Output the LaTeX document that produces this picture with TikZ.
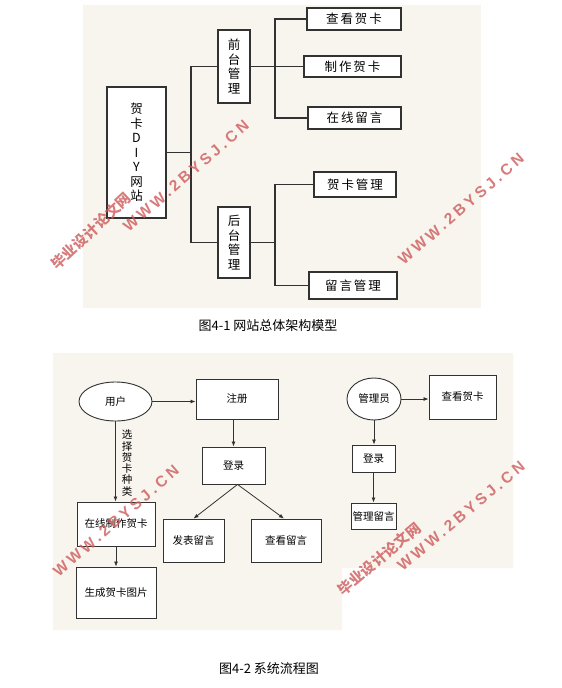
\documentclass[tikz,border=0pt]{standalone}
\usepackage{fontspec}
\setmainfont{Noto Sans CJK SC}
\newfontfamily\cjksp[LetterSpace=15]{Noto Sans CJK SC}
\newfontfamily\wmlatin[LetterSpace=22]{Liberation Sans}
\newfontfamily\wmcjk[LetterSpace=2]{Noto Sans CJK SC}
\usetikzlibrary{arrows.meta,shapes.geometric}
\definecolor{bg}{RGB}{248,245,239}
\definecolor{ln}{RGB}{50,50,50}
\definecolor{wmred}{RGB}{205,90,90}
\tikzset{
  tbox/.style={draw=ln, line width=1.1pt, fill=white, inner sep=0pt, align=center,
    font=\cjksp\fontsize{12.5}{14.5}\selectfont},
  fbox/.style={draw=ln, line width=0.9pt, fill=white, inner sep=0pt, align=center,
    font=\fontsize{10.5}{12}\selectfont},
  fell/.style={fbox, ellipse},
  tline/.style={draw=ln, line width=1.1pt},
  arr/.style={draw=ln, line width=0.8pt, -{Latex[length=5pt,width=4pt]}},
  captxt/.style={font=\fontsize{13}{15}\selectfont},
  wm/.style={text=wmred, opacity=0.8, font=\wmlatin\bfseries\fontsize{15.5}{17}\selectfont},
  wmc/.style={text=wmred, opacity=0.8, font=\wmcjk\bfseries\fontsize{14.5}{16}\selectfont}
}
\begin{document}
\begin{tikzpicture}[x=1pt,y=-1pt]
\useasboundingbox (0,0) rectangle (562,688);
\fill[white] (0,0) rectangle (562,688);
% backgrounds
\fill[bg] (83,5) rectangle (481,308);
\fill[bg] (53,353) -- (513,353) -- (513,568) -- (342,568) -- (342,630) -- (53,630) -- cycle;

% ---------- Figure 4-1 ----------
\node[tbox, minimum width=59pt, minimum height=131pt] (site) at (136.5,152.5) {贺\\卡\\D\\I\\Y\\网\\站};
\node[tbox, minimum width=32pt, minimum height=73pt] (front) at (234,66.5) {前\\台\\管\\理};
\node[tbox, minimum width=32pt, minimum height=71pt] (back) at (234,242.5) {后\\台\\管\\理};
\node[tbox, minimum width=94pt, minimum height=22pt] (c1) at (354,19) {查看贺卡};
\node[tbox, minimum width=97pt, minimum height=21pt] (c2) at (352.5,66.5) {制作贺卡};
\node[tbox, minimum width=93pt, minimum height=22pt] (c3) at (354.5,118) {在线留言};
\node[tbox, minimum width=82pt, minimum height=25pt] (c4) at (355,184.5) {贺卡管理};
\node[tbox, minimum width=88pt, minimum height=27pt] (c5) at (353,285.5) {留言管理};

\coordinate (j1) at (191,152.5);
\coordinate (j2) at (275,66.5);
\coordinate (j3) at (275,242.5);
\draw[tline] (site.east) -- (j1);
\draw[tline] (front.west) -| (j1) |- (back.west);
\draw[tline] (front.east) -- (j2);
\draw[tline] (c1.west) -| (j2) |- (c3.west);
\draw[tline] (j2) -- (c2.west);
\draw[tline] (back.east) -- (j3);
\draw[tline] (c4.west) -| (j3) |- (c5.west);

\node[captxt] (cap1) at (268,326) {图4-1 网站总体架构模型};

% ---------- Figure 4-2 ----------
\node[fell, minimum width=73pt, minimum height=39pt] (user) at (115.5,401.5) {用户};
\node[fbox, minimum width=82pt, minimum height=40pt] (reg) at (237,399) {注册};
\node[fbox, minimum width=63pt, minimum height=37pt] (login) at (233.5,465.5) {登录};
\node[fbox, minimum width=61pt, minimum height=43pt] (post) at (193.5,540.5) {发表留言};
\node[fbox, minimum width=70pt, minimum height=43pt] (view) at (286,540.5) {查看留言};
\node[fbox, minimum width=78pt, minimum height=44pt] (make) at (116,524) {在线制作贺卡};
\node[fbox, minimum width=80pt, minimum height=51pt] (gen) at (116,592.5) {生成贺卡图片};

\node[fell, minimum width=54pt, minimum height=42pt] (admin) at (374,399) {管理员};
\node[fbox, minimum width=67pt, minimum height=44pt] (aview) at (462.5,397) {查看贺卡};
\node[fbox, minimum width=43pt, minimum height=27pt] (alogin) at (373.5,458.5) {登录};
\node[fbox, minimum width=45pt, minimum height=26pt] (amsg) at (373.5,516) {管理留言};

\draw[arr] (user.east) -- (reg.west |- user.east);
\draw[arr] (user.south) -- (user.south |- make.north);
\node[font=\fontsize{10.5}{11.3}\selectfont, align=center, inner sep=0pt] (lab) at (127,463) {选\\择\\贺\\卡\\种\\类};
\draw[arr] (login.north |- reg.south) -- (login.north);
\draw[arr] ([xshift=4pt]login.south) -- (post.north);
\draw[arr] ([xshift=4pt]login.south) -- ([xshift=-2pt]view.north);
\draw[arr] (make.south) -- (gen.north);
\draw[arr] (admin.east) -- (aview.west |- admin.east);
\draw[arr] (admin.south) -- (admin.south |- alogin.north);
\draw[arr] (alogin.south) -- (amsg.north);

\node[captxt] (cap2) at (269,669) {图4-2 系统流程图};

% ---------- watermarks ----------
\node[wmc, rotate=43] (w1) at (91,231) {毕业设计论文网};
\node[wm, rotate=41] (w2) at (186,176) {WWW.2BYSJ.CN};
\node[wm, rotate=41] (w3) at (461,209) {WWW.2BYSJ.CN};
\node[wm, rotate=41] (w4) at (116,521) {WWW.2BYSJ.CN};
\node[wmc, rotate=40] (w5) at (379,559) {毕业设计论文网};
\node[wm, rotate=40] (w6) at (461,516) {WWW.2BYSJ.CN};
\end{tikzpicture}
\end{document}
